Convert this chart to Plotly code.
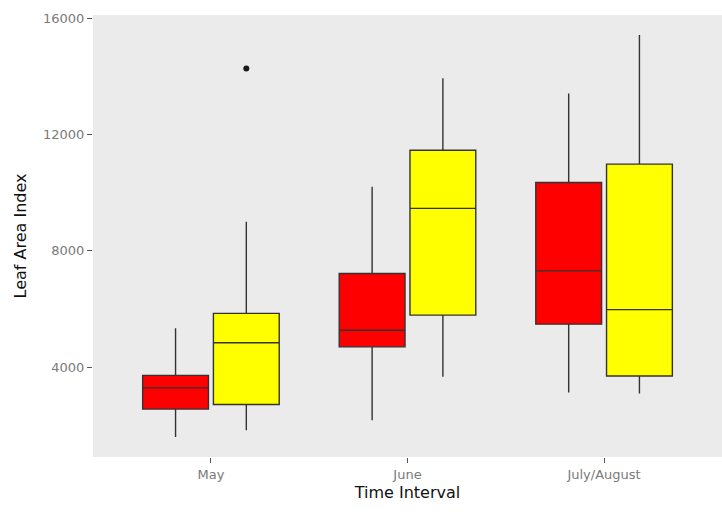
import plotly.graph_objects as go

# Time intervals on the x axis
intervals = ["May", "June", "July/August"]

# Five-number summaries for the red group
red_lower = [1600, 2180, 3130]
red_q1 = [2560, 4700, 5480]
red_median = [3290, 5270, 7310]
red_q3 = [3720, 7220, 10350]
red_upper = [5340, 10200, 13410]

# Five-number summaries for the yellow group
yellow_lower = [1830, 3670, 3100]
yellow_q1 = [2720, 5790, 3700]
yellow_median = [4840, 9460, 5980]
yellow_q3 = [5850, 11460, 10980]
yellow_upper = [9000, 13930, 15420]

# Outlying observations of the yellow group, per interval
yellow_outliers = [[14270], [], []]

y_ticks = [4000, 8000, 12000, 16000]
y_tick_labels = ["4000", "8000", "12000", "16000"]

box_line = dict(color="#333333", width=1.4)

fig = go.Figure()
fig.add_trace(go.Box(
    x=intervals,
    q1=red_q1, median=red_median, q3=red_q3,
    lowerfence=red_lower, upperfence=red_upper,
    fillcolor="#ff0000", line=box_line, whiskerwidth=0,
    boxpoints=False, name="red", showlegend=False,
))
fig.add_trace(go.Box(
    x=intervals,
    y=yellow_outliers,
    q1=yellow_q1, median=yellow_median, q3=yellow_q3,
    lowerfence=yellow_lower, upperfence=yellow_upper,
    fillcolor="#ffff00", line=box_line, whiskerwidth=0,
    boxpoints="outliers",
    marker=dict(color="#1a1a1a", size=6),
    name="yellow", showlegend=False,
))

fig.update_layout(
    width=722, height=512,
    margin=dict(l=93, r=0, t=15, b=55),
    paper_bgcolor="white",
    plot_bgcolor="#ebebeb",
    boxmode="group",
    boxgap=0.28,
    boxgroupgap=0.07,
    font=dict(family="DejaVu Sans", color="#7a7a7a", size=13),
)
fig.update_xaxes(
    type="category",
    categoryorder="array", categoryarray=intervals,
    range=[-0.6, 2.6],
    showgrid=False, zeroline=False,
    ticks="outside", ticklen=5, tickcolor="#555555", tickwidth=1,
    title=dict(text="Time Interval", font=dict(size=16, color="#111111"), standoff=6),
)
fig.update_yaxes(
    range=[913, 16108],
    tickmode="array", tickvals=y_ticks, ticktext=y_tick_labels,
    showgrid=False, zeroline=False,
    ticks="outside", ticklen=5, tickcolor="#555555", tickwidth=1,
    title=dict(text="Leaf Area Index", font=dict(size=16, color="#111111"), standoff=12),
)

fig.write_html("out.html")
